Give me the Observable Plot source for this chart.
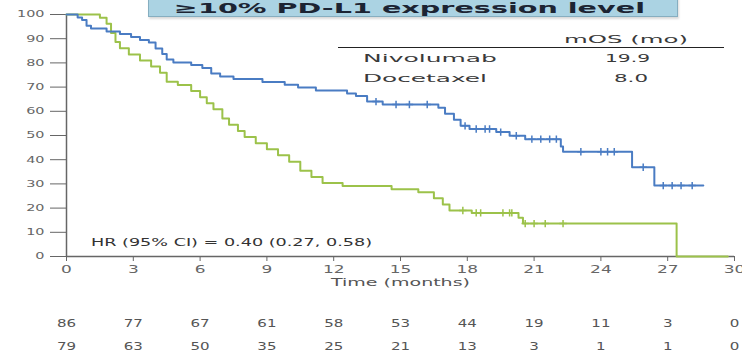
<!DOCTYPE html>
<html>
<head>
<meta charset="utf-8">
<script src="https://cdn.jsdelivr.net/npm/d3@7"></script>
<script src="https://cdn.jsdelivr.net/npm/@observablehq/plot@0.6"></script>
<style>
  html, body { margin: 0; padding: 0; background: #fff; overflow: hidden; }
  #wrap { position: relative; width: 742px; height: 355px; font-family: "DejaVu Sans", sans-serif; }
  #title {
    position: absolute; left: 148px; top: -3px; width: 528px; height: 18px;
    background: #abd3e3; border: 1px solid #86aec0; box-shadow: 1px 2px 2px rgba(0,0,0,0.15);
    overflow: hidden;
  }
  #title span {
    display: inline-block; position: absolute; left: 25px; top: 2px;
    font: bold 14px "DejaVu Sans", sans-serif; color: #1c2433; white-space: nowrap;
    transform-origin: 0 0;
  }
  .lg { position: absolute; font-size: 11px; color: #3a3a3a; white-space: nowrap; transform-origin: 0 50%; }
  #rule { position: absolute; left: 338px; top: 47px; width: 386px; height: 0; border-top: 1.5px solid #222; }
</style>
</head>
<body>
<div id="wrap">
  <div id="chart"></div>
  <div id="title"><span>≥10% PD-L1 expression level</span></div>
  <div class="lg" data-w="124" style="left:564px;top:33px;">mOS (mo)</div>
  <div id="rule"></div>
  <div class="lg" data-w="134" style="left:363px;top:52px;">Nivolumab</div>
  <div class="lg" data-w="45" style="left:605px;top:52px;">19.9</div>
  <div class="lg" data-w="124" style="left:363px;top:72px;">Docetaxel</div>
  <div class="lg" data-w="34" style="left:614px;top:72px;">8.0</div>
</div>
<script>
// Kaplan–Meier overall survival, PD-L1 ≥10% subgroup
const nivoTime = [0, 0.5, 0.7, 0.9, 1.1, 1.8, 2.4, 2.9, 3.3, 3.7, 4.0, 4.3, 4.5, 4.8, 5.6, 6.1, 6.5, 6.9, 7.5, 8.8, 9.8, 10.4, 11.2, 12.6, 13.0, 13.5, 14.2, 16.7, 17.0, 17.4, 17.7, 18.1, 19.3, 19.9, 20.6, 22.2, 22.3, 25.4, 26.4, 28.6];
const nivoSurv = [100, 98.8, 97.7, 95.3, 94.2, 93.0, 91.9, 90.7, 89.5, 88.4, 86.0, 83.7, 81.4, 80.2, 79.1, 77.9, 75.6, 74.4, 73.3, 72.1, 71.0, 69.8, 68.6, 67.4, 66.3, 64.0, 62.8, 61.5, 59.0, 56.5, 54.0, 52.7, 51.4, 49.9, 48.5, 45.5, 43.3, 36.9, 29.3, 29.3];
const doceTime = [0, 1.5, 1.8, 2.0, 2.2, 2.4, 2.8, 3.3, 3.8, 4.2, 4.5, 5.0, 5.6, 6.0, 6.3, 6.6, 7.0, 7.3, 7.7, 8.0, 8.5, 9.0, 9.5, 10.0, 10.5, 11.0, 11.5, 12.4, 14.6, 15.8, 16.5, 16.9, 17.2, 18.2, 20.3, 20.5, 27.4, 29.7];
const doceSurv = [100, 98.7, 96.2, 92.4, 88.6, 86.1, 83.5, 81.0, 78.5, 75.9, 72.2, 70.9, 68.4, 65.8, 63.3, 60.8, 57.0, 54.4, 51.9, 49.4, 46.8, 44.3, 41.8, 39.2, 35.4, 32.9, 30.4, 29.1, 27.8, 26.5, 24.1, 21.5, 19.0, 18.0, 16.0, 13.6, 0, 0];

// censoring times
const nivoCensor = [13.9, 14.8, 15.4, 16.2, 17.9, 18.4, 18.8, 19.0, 19.5, 20.2, 20.9, 21.3, 21.7, 22.0, 23.1, 24.0, 24.3, 24.6, 25.9, 26.8, 27.2, 27.6, 28.1];
const doceCensor = [17.8, 18.4, 18.6, 19.6, 19.9, 20.0, 20.6, 21.0, 21.5, 22.3];

// numbers at risk
const riskTimes = [0, 3, 6, 9, 12, 15, 18, 21, 24, 27, 30];
const riskNivo = [86, 77, 67, 61, 58, 53, 44, 19, 11, 3, 0];
const riskDoce = [79, 63, 50, 35, 25, 21, 13, 3, 1, 1, 0];

const xTicks = [0, 3, 6, 9, 12, 15, 18, 21, 24, 27, 30];
const yTicks = [0, 10, 20, 30, 40, 50, 60, 70, 80, 90, 100];

const nivoColor = "#4a7cc3";
const doceColor = "#9cc24a";

const toRows = (ts, ss) => ts.map((t, i) => ({t, s: ss[i]}));
const stepAt = (ts, ss) => (t) => { let v = ss[0]; for (let i = 0; i < ts.length; i++) if (ts[i] <= t) v = ss[i]; return v; };
const nivoAt = stepAt(nivoTime, nivoSurv);
const doceAt = stepAt(doceTime, doceSurv);

const chart = Plot.plot({
  width: 742,
  height: 355,
  marginLeft: 66,
  marginRight: 8,
  marginTop: 14,
  marginBottom: 99,
  style: {fontFamily: "DejaVu Sans, sans-serif", fontSize: "9px", color: "#555", background: "transparent"},
  x: {domain: [0, 30]},
  y: {domain: [0, 100]},
  marks: [
    Plot.axisY({ticks: yTicks, tickSize: 16, tickPadding: 6, label: null, stroke: "#666", fill: "#666", fontSize: 9}),
    Plot.axisX({ticks: xTicks, tickSize: 5, tickPadding: 4, label: null, stroke: "#666", fill: "#666", fontSize: 10}),
    Plot.ruleX([0], {stroke: "#666", strokeWidth: 1.5}),
    Plot.ruleY([0], {stroke: "#666", strokeWidth: 1.5}),
    Plot.line(toRows(doceTime, doceSurv), {x: "t", y: "s", curve: "step-after", stroke: doceColor, strokeWidth: 2}),
    Plot.line(toRows(nivoTime, nivoSurv), {x: "t", y: "s", curve: "step-after", stroke: nivoColor, strokeWidth: 2}),
    Plot.dot(doceCensor, {x: d => d, y: d => doceAt(d), symbol: "plus", r: 2.5, stroke: doceColor, strokeWidth: 1.5}),
    Plot.dot(nivoCensor, {x: d => d, y: d => nivoAt(d), symbol: "plus", r: 2.5, stroke: nivoColor, strokeWidth: 1.5}),
    Plot.text(["Time (months)"], {frameAnchor: "bottom", x: 15, dy: 29, text: d => d, fontSize: 10, fill: "#555", className: "wide-xlabel"}),
    Plot.text(["HR (95% CI) = 0.40 (0.27, 0.58)"], {x: 1.1, y: 6, text: d => d, textAnchor: "start", fontSize: 11, fill: "#333", className: "wide-hr"}),
    Plot.text(riskNivo, {x: (d, i) => riskTimes[i], text: d => String(d), frameAnchor: "bottom", dy: 70, fontSize: 10, fill: "#555", className: "wide-risk"}),
    Plot.text(riskDoce, {x: (d, i) => riskTimes[i], text: d => String(d), frameAnchor: "bottom", dy: 93, fontSize: 10, fill: "#555", className: "wide-risk"})
  ]
});
document.getElementById("chart").appendChild(chart);

// the lettering of this figure is set wide; stretch each label horizontally
function widen(selection, factor) {
  selection.each(function () {
    const len = this.getComputedTextLength();
    this.setAttribute("textLength", (len * factor).toFixed(1));
    this.setAttribute("lengthAdjust", "spacingAndGlyphs");
  });
}
const svg = d3.select(chart);
widen(svg.selectAll('g[aria-label="y-axis tick label"] text'), 1.6);
widen(svg.selectAll('g[aria-label="x-axis tick label"] text'), 1.7);
widen(svg.selectAll('.wide-risk text'), 1.5);
widen(svg.selectAll('.wide-hr text'), 1.6);
widen(svg.selectAll('.wide-xlabel text'), 1.9);

// legend table and title lettering: scale to the set widths
document.querySelectorAll(".lg").forEach(el => {
  const w = +el.dataset.w;
  const f = w / el.getBoundingClientRect().width;
  el.style.transform = `scaleX(${f.toFixed(3)})`;
});
const tspan = document.querySelector("#title span");
tspan.style.transform = `scaleX(${(471 / tspan.getBoundingClientRect().width).toFixed(3)})`;
</script>
</body>
</html>
